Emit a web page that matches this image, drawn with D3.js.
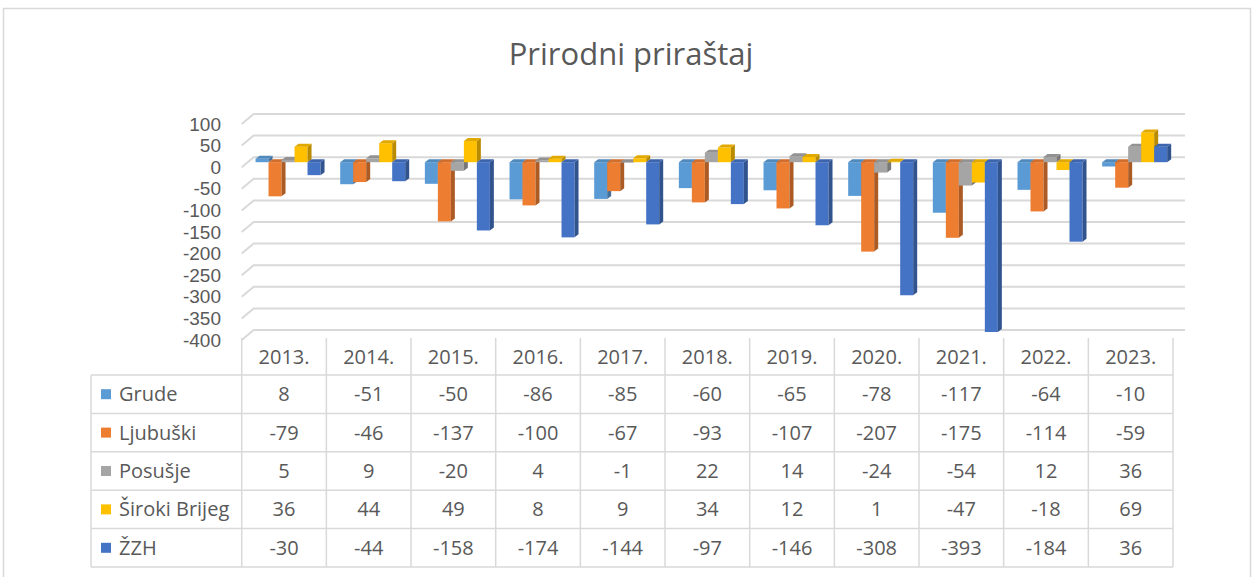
<!DOCTYPE html>
<html>
<head>
<meta charset="utf-8">
<script src="https://cdn.jsdelivr.net/npm/d3@7"></script>
<style>
  body { margin: 0; background: #fff; }
  text { font-family: "Open Sans", "Liberation Sans", sans-serif; fill: #595959; }
</style>
</head>
<body>
<div id="chart"></div>
<script>
// data
var years = ["2013.", "2014.", "2015.", "2016.", "2017.", "2018.", "2019.", "2020.", "2021.", "2022.", "2023."];
var seriesNames = ["Grude", "Ljubuški", "Posušje", "Široki Brijeg", "ŽZH"];
var grude = [8, -51, -50, -86, -85, -60, -65, -78, -117, -64, -10];
var ljubuski = [-79, -46, -137, -100, -67, -93, -107, -207, -175, -114, -59];
var posusje = [5, 9, -20, 4, -1, 22, 14, -24, -54, 12, 36];
var sirokiBrijeg = [36, 44, 49, 8, 9, 34, 12, 1, -47, -18, 69];
var zzh = [-30, -44, -158, -174, -144, -97, -146, -308, -393, -184, 36];
var seriesValues = [grude, ljubuski, posusje, sirokiBrijeg, zzh];
var colors = ["#5B9BD5", "#ED7D31", "#A5A5A5", "#FFC000", "#4472C4"];

var W = 1255, H = 577;

var svg = d3.select("#chart").append("svg")
  .attr("width", W)
  .attr("height", H);

// chart area border
svg.append("rect")
  .attr("x", 3.5).attr("y", 8.5)
  .attr("width", 1247).attr("height", 620)
  .attr("fill", "#fff")
  .attr("stroke", "#D9D9D9")
  .attr("stroke-width", 1.5);

// title
svg.append("text")
  .attr("x", 631).attr("y", 65)
  .attr("text-anchor", "middle")
  .style("font-size", "31px")
  .text("Prirodni priraštaj");

// 3d depth of the wall (back minus front)
var depthX = 12, depthY = -10;
var wallRight = 1185;

// scales (front plane)
var xCat = d3.scaleBand().domain(years).range([241.7, 1173]);
var groupW = 65;
var xSub = d3.scaleBand().domain(seriesNames).range([0, groupW]);
var yFront = d3.scaleLinear().domain([-400, 100]).range([340, 124]);

// gridlines: short diagonal + horizontal line on back wall
var ticks = yFront.ticks(10);
var grid = svg.append("g").attr("fill", "none").attr("stroke", "#D9D9D9").attr("stroke-width", 2);
grid.selectAll("path").data(ticks).enter().append("path")
  .attr("d", function(d) {
    var x0 = xCat.range()[0], y0 = yFront(d);
    return "M" + x0 + "," + y0 + "L" + (x0 + depthX) + "," + (y0 + depthY) + "L" + wallRight + "," + (y0 + depthY);
  });

// y axis labels
var yAxis = svg.append("g")
  .attr("transform", "translate(221,0)")
  .call(d3.axisLeft(yFront).tickValues(ticks).tickSize(0).tickPadding(0).tickFormat(function(d) { return String(d); }));
yAxis.select(".domain").remove();
yAxis.selectAll("text")
  .style("font-size", "19px")
  .style("font-family", "'Liberation Sans', sans-serif")
  .attr("fill", "#595959");

// bars (3d boxes)
var barDx = 4, barDy = -5;     // bar front face offset from front plane
var boxDx = 4, boxDy = -3;     // bar depth
var bars = svg.append("g");
years.forEach(function(yr, i) {
  seriesNames.forEach(function(s, j) {
    var v = seriesValues[j][i];
    var c = colors[j];
    var x0 = xCat(yr) + (xCat.bandwidth() - groupW) / 2 + barDx + xSub(s);
    var x1 = x0 + xSub.bandwidth();
    var yTop = yFront(Math.max(0, v)) + barDy;
    var yBot = yFront(Math.min(0, v)) + barDy;
    var g = bars.append("g");
    // front face
    g.append("rect")
      .attr("x", x0).attr("y", yTop)
      .attr("width", x1 - x0).attr("height", Math.max(0.5, yBot - yTop))
      .attr("fill", c);
    // right side face
    g.append("path")
      .attr("d", "M" + x1 + "," + yTop + "L" + (x1 + boxDx) + "," + (yTop + boxDy) +
        "L" + (x1 + boxDx) + "," + (yBot + boxDy) + "L" + x1 + "," + yBot + "Z")
      .attr("fill", d3.color(c).darker(0.9));
    // top face
    g.append("path")
      .attr("d", "M" + x0 + "," + yTop + "L" + x1 + "," + yTop + "L" + (x1 + boxDx) + "," + (yTop + boxDy) +
        "L" + (x0 + boxDx) + "," + (yTop + boxDy) + "Z")
      .attr("fill", d3.color(c).darker(0.35));
  });
});

// data table
var tableLeft = 91, headTop = 338, rowTop = 375, rowH = 38.4;
var tbl = svg.append("g").attr("stroke", "#D9D9D9").attr("stroke-width", 1.5);
d3.range(seriesNames.length + 1).forEach(function(r) {
  tbl.append("line")
    .attr("x1", tableLeft).attr("x2", xCat.range()[1])
    .attr("y1", rowTop + r * rowH).attr("y2", rowTop + r * rowH);
});
tbl.append("line")
  .attr("x1", tableLeft).attr("x2", tableLeft)
  .attr("y1", rowTop).attr("y2", rowTop + seriesNames.length * rowH);
years.concat(["end"]).forEach(function(yr, i) {
  var x = xCat.range()[0] + i * xCat.bandwidth();
  tbl.append("line")
    .attr("x1", x).attr("x2", x)
    .attr("y1", headTop).attr("y2", rowTop + seriesNames.length * rowH);
});

// header years
svg.append("g").selectAll("text").data(years).enter().append("text")
  .attr("x", function(d) { return xCat(d) + xCat.bandwidth() / 2; })
  .attr("y", 364)
  .attr("text-anchor", "middle")
  .style("font-size", "20px")
  .text(function(d) { return d; });

// row labels with legend keys
seriesNames.forEach(function(s, j) {
  var cy = rowTop + j * rowH + rowH / 2;
  svg.append("rect")
    .attr("x", 101).attr("y", cy - 5)
    .attr("width", 10).attr("height", 10)
    .attr("fill", colors[j]);
  svg.append("text")
    .attr("x", 119).attr("y", cy + 7)
    .style("font-size", "20px")
    .text(s);
  svg.append("g").selectAll("text").data(seriesValues[j]).enter().append("text")
    .attr("x", function(d, i) { return xCat(years[i]) + xCat.bandwidth() / 2; })
    .attr("y", cy + 7)
    .attr("text-anchor", "middle")
    .style("font-size", "20px")
    .text(function(d) { return String(d); });
});
</script>
</body>
</html>
